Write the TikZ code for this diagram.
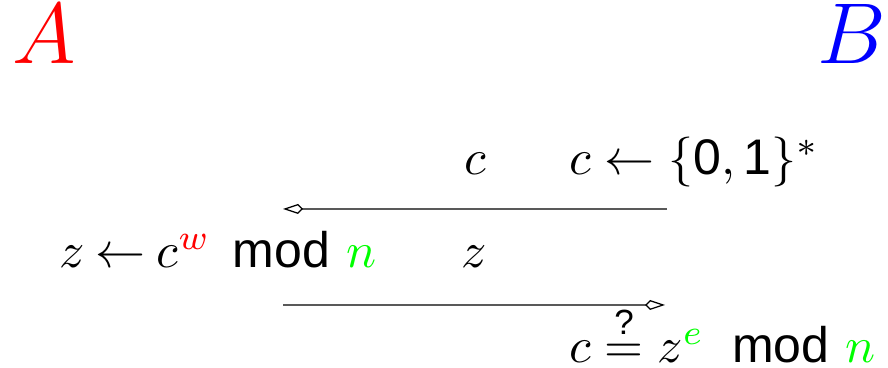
\documentclass[tikz,border=0pt]{standalone}
\usepackage{amsmath}
\usepackage{fontspec}
\setmainfont{Liberation Sans}
\usetikzlibrary{arrows.meta}
\definecolor{pgreen}{RGB}{0,255,0}
\begin{document}
\begin{tikzpicture}[x=0.2pt,y=-0.2pt,
  lbl/.style={inner sep=0pt,outer sep=0pt,font=\fontsize{10}{12}\selectfont},
  party/.style={inner sep=0pt,outer sep=0pt,font=\fontsize{16.6}{20}\selectfont},
  msg/.style={draw=black!65,line width=0.3pt,
    -{Kite[open,length=4pt,width=2pt,inset=1pt,color=black,line width=0.25pt]}}]
\useasboundingbox (0,0) rectangle (888,368);
\node[party,anchor=base west,text=red] (A) at (12,64) {$A$};
\node[party,anchor=base east,text=blue] (B) at (886,64) {$B$};
\node[lbl,anchor=base west] (c1) at (464,175) {$c$};
\node[lbl,anchor=base west] (gen) at (569,175) {$c \leftarrow \{\text{0},\text{1}\}^*$};
\coordinate (m1s) at (667,209);
\coordinate (m1e) at (283,209);
\draw[msg] (m1s) -- (m1e);
\node[lbl,anchor=base west] (comp) at (59,268) {$z \mkern-1mu\leftarrow\mkern-1mu c^{\color{red}w}\mkern-4mu \mod {\color{pgreen}n}$};
\node[lbl,anchor=base west] (z1) at (461,268) {$z$};
\coordinate (m2s) at (283,305);
\coordinate (m2e) at (665,305);
\draw[msg] (m2s) -- (m2e);
\node[lbl,anchor=base west] (chk) at (569,363) {$c \stackrel{\text{?}}{=} z^{\color{pgreen}e}\mkern-2mu \mod {\color{pgreen}n}$};
\end{tikzpicture}
\end{document}
